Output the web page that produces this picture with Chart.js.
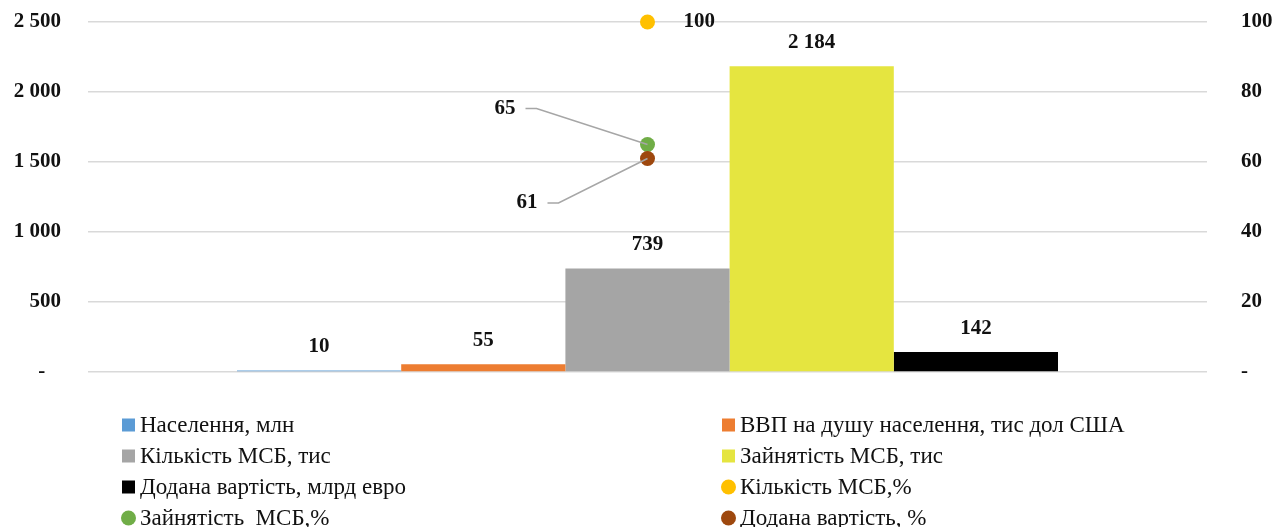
<!DOCTYPE html>
<html>
<head>
<meta charset="utf-8">
<script src="https://cdn.jsdelivr.net/npm/chart.js@4.4.1/dist/chart.umd.min.js"></script>
<style>
  html, body { margin: 0; padding: 0; background: #ffffff; }
  #wrap { position: relative; width: 1288px; height: 527px; }
</style>
</head>
<body>
<div id="wrap"><canvas id="c" width="1288" height="527"></canvas></div>
<script>
// ---- data ----
const categories = [''];
const barSeriesNames = [
  'Населення, млн',
  'ВВП на душу населення, тис дол США',
  'Кількість МСБ, тис',
  'Зайнятість МСБ, тис',
  'Додана вартість, млрд евро'
];
const barValues = [10, 55, 739, 2184, 142];
const pointSeriesNames = [
  'Кількість МСБ,%',
  'Зайнятість  МСБ,%',
  'Додана вартість, %'
];
const pointValues = [100, 65, 61];
const leftTicks = [0, 500, 1000, 1500, 2000, 2500];
const rightTicks = [0, 20, 40, 60, 80, 100];

// ---- styles ----
const barColors = ['#5b9bd5', '#ed7d31', '#a5a5a5', '#e5e540', '#000000'];
const pointColors = ['#ffc000', '#70ad47', '#9e480e'];
// label placement for the percentage points (relative to the point)
const pointLabelStyle = [
  { dx: 36, dy: 0, align: 'left', leader: false },
  { dx: -132, dy: -36, align: 'right', leader: true },
  { dx: -110, dy: 44.5, align: 'right', leader: true }
];
const FONT = '"Liberation Serif", "Times New Roman", serif';
const TEXT = '#111111';

function fmt(v) {
  if (v === 0) return '-';
  return String(v).replace(/\B(?=(\d{3})+(?!\d))/g, ' ');
}

const datasets = [];
barSeriesNames.forEach((name, i) => {
  datasets.push({
    type: 'bar',
    label: name,
    data: [barValues[i]],
    backgroundColor: barColors[i],
    borderWidth: 0,
    yAxisID: 'y',
    order: 10,
    barPercentage: 1,
    categoryPercentage: 0.7337,
    _kind: 'bar'
  });
});
pointSeriesNames.forEach((name, i) => {
  datasets.push({
    type: 'line',
    label: name,
    data: [pointValues[i]],
    showLine: false,
    clip: false,
    pointRadius: 7.5,
    pointHoverRadius: 7.5,
    pointBackgroundColor: pointColors[i],
    pointBorderWidth: 0,
    borderColor: pointColors[i],
    backgroundColor: pointColors[i],
    yAxisID: 'y2',
    order: 3 - i,
    _kind: 'point',
    _labelStyle: pointLabelStyle[i]
  });
});

const labelsPlugin = {
  id: 'labelsPlugin',
  afterDatasetsDraw(chart) {
    const ctx = chart.ctx;
    ctx.save();
    ctx.font = 'bold 21px ' + FONT;
    ctx.fillStyle = TEXT;
    ctx.textBaseline = 'middle';
    chart.data.datasets.forEach((ds, i) => {
      const meta = chart.getDatasetMeta(i);
      const el = meta.data[0];
      if (!el) return;
      const v = ds.data[0];
      if (ds._kind === 'bar') {
        ctx.textAlign = 'center';
        ctx.fillText(fmt(v), el.x, el.y - 24);
      } else {
        const s = ds._labelStyle;
        const lx = el.x + s.dx, ly = el.y + s.dy;
        if (s.leader) {
          ctx.save();
          ctx.strokeStyle = '#a6a6a6';
          ctx.lineWidth = 1.5;
          ctx.beginPath();
          ctx.moveTo(lx + 10, ly);
          ctx.lineTo(lx + 21, ly);
          ctx.lineTo(el.x, el.y);
          ctx.stroke();
          ctx.restore();
        }
        ctx.textAlign = s.align;
        ctx.fillText(fmt(v), lx, ly);
      }
    });
    ctx.restore();
  },
  afterDraw(chart) {
    // two-column legend under the plot
    const ctx = chart.ctx;
    ctx.save();
    ctx.font = '23px ' + FONT;
    ctx.fillStyle = TEXT;
    ctx.textBaseline = 'middle';
    ctx.textAlign = 'left';
    const colX = [122, 722];
    const rowY0 = 425, rowStep = 31;
    chart.data.datasets.forEach((ds, i) => {
      const col = i % 2, row = Math.floor(i / 2);
      const x = colX[col], y = rowY0 + row * rowStep;
      const color = ds._kind === 'bar' ? ds.backgroundColor : ds.pointBackgroundColor;
      ctx.fillStyle = color;
      if (ds._kind === 'bar') {
        ctx.fillRect(x, y - 6.5, 13, 13);
      } else {
        ctx.beginPath();
        ctx.arc(x + 6.5, y, 7.5, 0, Math.PI * 2);
        ctx.fill();
      }
      ctx.fillStyle = TEXT;
      ctx.fillText(ds.label, x + 18, y + 1);
    });
    ctx.restore();
  }
};

new Chart(document.getElementById('c'), {
  data: { labels: categories, datasets },
  options: {
    responsive: false,
    animation: false,
    devicePixelRatio: 1,
    layout: { padding: { top: 22, bottom: 155, left: 0, right: 0 } },
    plugins: { legend: { display: false }, tooltip: { enabled: false } },
    scales: {
      x: { type: 'category', display: false, offset: true, grid: { display: false } },
      y: {
        position: 'left',
        min: 0, max: 2500,
        afterBuildTicks(axis) { axis.ticks = leftTicks.map(v => ({ value: v })); },
        afterFit(axis) { axis.width = 88; axis.paddingTop = 12; axis.paddingBottom = 12; },
        grid: { color: '#d9d9d9', lineWidth: 1.5, drawTicks: false },
        border: { display: false },
        ticks: {
          padding: 27,
          color: TEXT,
          font: { family: FONT, size: 21, weight: 'bold' },
          callback: v => v === 0 ? '-   ' : fmt(v)
        }
      },
      y2: {
        position: 'right',
        min: 0, max: 100,
        afterBuildTicks(axis) { axis.ticks = rightTicks.map(v => ({ value: v })); },
        afterFit(axis) { axis.width = 81; axis.paddingTop = 12; axis.paddingBottom = 12; },
        grid: { display: false, drawTicks: false },
        border: { display: false },
        ticks: {
          padding: 34,
          color: TEXT,
          font: { family: FONT, size: 21, weight: 'bold' },
          callback: v => fmt(v)
        }
      }
    }
  },
  plugins: [labelsPlugin]
});
</script>
</body>
</html>
